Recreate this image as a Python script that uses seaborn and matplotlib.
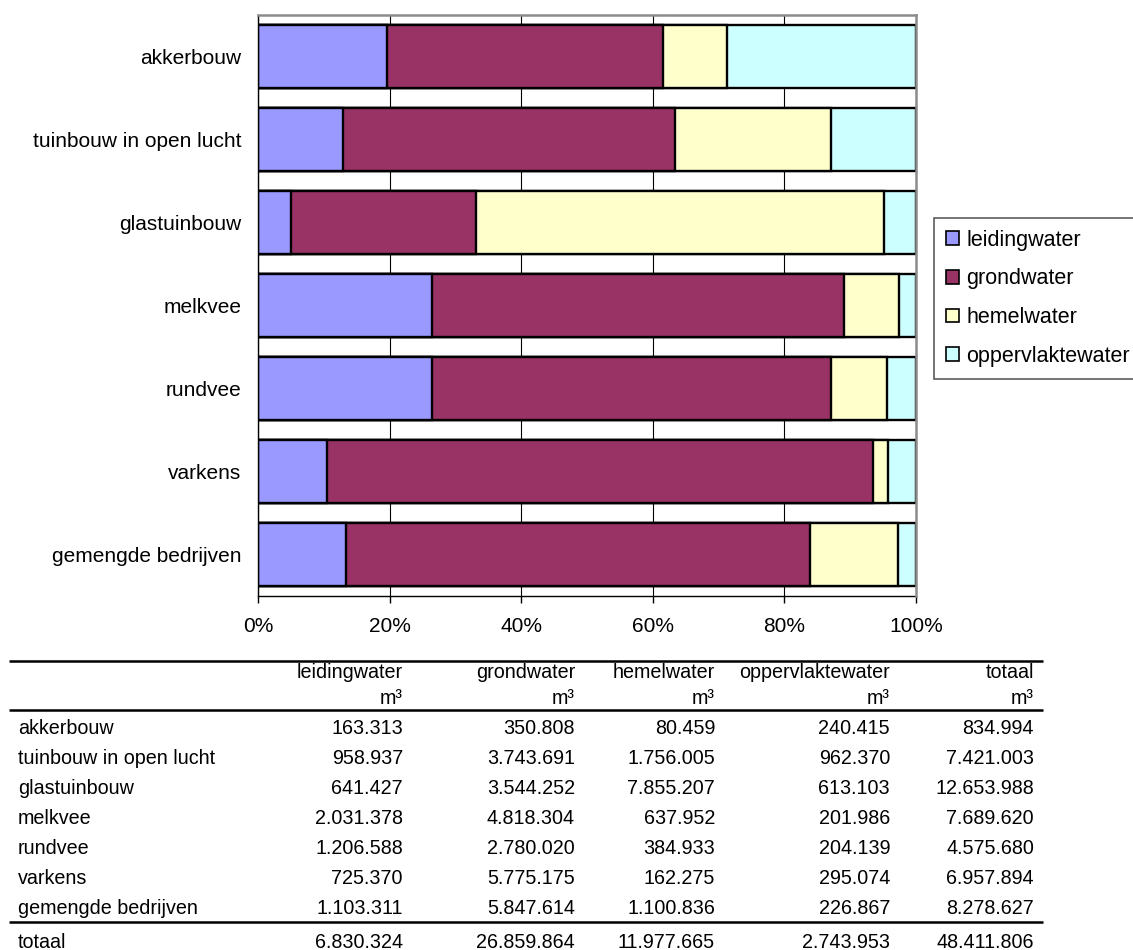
import matplotlib
matplotlib.use("Agg")
import matplotlib.pyplot as plt
from matplotlib.patches import Patch
import seaborn as sns
import pandas as pd
import numpy as np

# ---------------- data ----------------
categories = ["akkerbouw", "tuinbouw in open lucht", "glastuinbouw", "melkvee",
              "rundvee", "varkens", "gemengde bedrijven"]
series_names = ["leidingwater", "grondwater", "hemelwater", "oppervlaktewater"]
leidingwater = [163313, 958937, 641427, 2031378, 1206588, 725370, 1103311]
grondwater = [350808, 3743691, 3544252, 4818304, 2780020, 5775175, 5847614]
hemelwater = [80459, 1756005, 7855207, 637952, 384933, 162275, 1100836]
oppervlaktewater = [240415, 962370, 613103, 201986, 204139, 295074, 226867]
row_totals = [834994, 7421003, 12653988, 7689620, 4575680, 6957894, 8278627]
col_totals = [6830324, 26859864, 11977665, 2743953, 48411806]
x_ticks = [0, 20, 40, 60, 80, 100]
colors = ["#9999FF", "#993366", "#FFFFCC", "#CCFFFF"]

# ---------------- figure ----------------
sns.set_theme(style="white")
plt.rcParams["font.family"] = ["Liberation Sans", "DejaVu Sans"]
plt.rcParams["text.color"] = "black"
plt.rcParams["xtick.color"] = "black"
plt.rcParams["ytick.color"] = "black"

W, H = 1133, 950
fig = plt.figure(figsize=(W / 100, H / 100), dpi=100)
ax = fig.add_axes([258 / W, 1 - 596 / H, 658 / W, 581 / H])

vals = np.array([leidingwater, grondwater, hemelwater, oppervlaktewater], dtype=float)
pct = vals / vals.sum(axis=0) * 100
cum = np.cumsum(pct, axis=0)
df = pd.DataFrame({"categorie": categories})
for i, name in enumerate(series_names):
    df[name] = cum[i]

# draw from the widest cumulative bar to the narrowest so segments appear stacked
for i in reversed(range(len(series_names))):
    sns.barplot(data=df, x=series_names[i], y="categorie", order=categories,
                color=colors[i], saturation=1, width=0.76, edgecolor="black",
                linewidth=1.7, orient="h", ax=ax, zorder=1)

ax.set_xlim(0, 100)
ax.set_ylim(len(categories) - 0.5, -0.5)
ax.set_xticks(x_ticks)
ax.set_xticklabels([f"{t}%" for t in x_ticks], fontsize=15, color="black")
ax.set_xlabel("")
ax.set_ylabel("")
ax.tick_params(axis="y", which="major", length=0, pad=12, labelsize=15, labelcolor="black")
ax.set_yticks(np.arange(-0.5, len(categories)), minor=True)
ax.tick_params(axis="y", which="minor", length=5, width=1, color="black", direction="out")
ax.tick_params(axis="x", which="major", length=5, width=1, color="black", direction="out",
               pad=10, bottom=True)
ax.xaxis.grid(True, color="black", linewidth=0.8)
ax.yaxis.grid(False)
ax.set_axisbelow(True)
for s in ["left", "bottom"]:
    ax.spines[s].set_color("black")
    ax.spines[s].set_linewidth(1.0)
for s in ["top", "right"]:
    ax.spines[s].set_color("#8c8c8c")
    ax.spines[s].set_linewidth(1.8)
    ax.spines[s].set_zorder(3)

handles = [Patch(facecolor=c, edgecolor="black", linewidth=1.2) for c in colors]
leg = fig.legend(handles, series_names, loc="upper left",
                 bbox_to_anchor=(934 / W, 1 - 218 / H), fontsize=15.5,
                 frameon=True, fancybox=False, edgecolor="#333333",
                 handlelength=0.6, handleheight=0.6, handletextpad=0.35,
                 labelspacing=0.82, borderpad=0.55, borderaxespad=0)
leg.get_frame().set_linewidth(1.2)
for t in leg.get_texts():
    t.set_color("black")

# ---------------- table ----------------
tab = fig.add_axes([0, 0, 1, 1])
tab.set_xlim(0, W)
tab.set_ylim(H, 0)
tab.axis("off")

col_right = [403, 575, 715, 890, 1034]
header = series_names + ["totaal"]
fs = 14.2


def fmt(v):
    return f"{v:,}".replace(",", ".")


for x, h in zip(col_right, header):
    tab.text(x, 673, h, ha="right", va="center", fontsize=fs, color="black")
    tab.text(x, 698, "m³", ha="right", va="center", fontsize=fs, color="black")

row_y0, row_dy = 729, 30
for r, cat in enumerate(categories):
    y = row_y0 + r * row_dy
    tab.text(18, y, cat, ha="left", va="center", fontsize=fs, color="black")
    row_vals = [leidingwater[r], grondwater[r], hemelwater[r], oppervlaktewater[r], row_totals[r]]
    for x, v in zip(col_right, row_vals):
        tab.text(x, y, fmt(v), ha="right", va="center", fontsize=fs, color="black")

tab.text(18, 942, "totaal", ha="left", va="center", fontsize=fs, color="black")
for x, v in zip(col_right, col_totals):
    tab.text(x, 942, fmt(v), ha="right", va="center", fontsize=fs, color="black")

for y in [660.5, 710, 922]:
    tab.plot([9, 1043], [y, y], color="black", linewidth=1.8, solid_capstyle="butt")

fig.savefig("out.png", dpi=100)
